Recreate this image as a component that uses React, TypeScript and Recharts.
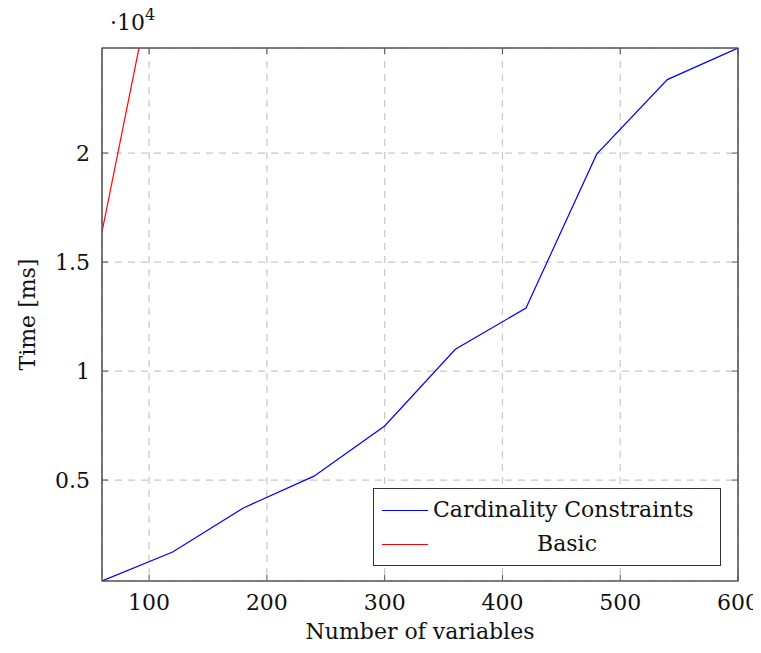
import React from "react";
import { LineChart, Line, XAxis, YAxis, CartesianGrid, ReferenceArea } from "recharts";

const xValues = [60, 120, 180, 240, 300, 360, 420, 480, 540, 600];
const cardinality = [370, 1700, 3720, 5180, 7480, 11000, 12890, 19950, 23370, 24820];
const basicX = [60, 120];
const basic = [16380, 32500];
const xTicks = [100, 200, 300, 400, 500, 600];
const yTicks = [5000, 10000, 15000, 20000];
const yMin = 370;
const yMax = 24820;

const ccData = xValues.map((x, i) => ({ x, y: cardinality[i] }));
const basicData = basicX.map((x, i) => ({ x, y: basic[i] }));

const FONT = "'DejaVu Serif', 'Liberation Serif', serif";
const FS = 22;
const AXIS = "#555";

const NoTick = () => <g />;

const LegendBox = () => (
  <div
    style={{
      position: "absolute",
      left: 365,
      top: 480,
      width: 348,
      height: 78,
      border: "1px solid #333",
      background: "#fff",
      fontFamily: FONT,
      fontSize: FS,
      color: "#111",
      boxSizing: "border-box",
    }}
  >
    <svg width={60} height={76} style={{ position: "absolute", left: 0, top: 0 }}>
      <line x1={8} x2={54} y1={21.5} y2={21.5} stroke="#0000ff" strokeWidth={1.2} />
      <line x1={8} x2={54} y1={55.5} y2={55.5} stroke="#ff0000" strokeWidth={1.2} />
    </svg>
    <div style={{ position: "absolute", left: 59, top: 8, whiteSpace: "nowrap" }}>Cardinality Constraints</div>
    <div style={{ position: "absolute", left: 59, right: 19, top: 42, textAlign: "center", whiteSpace: "nowrap" }}>Basic</div>
  </div>
);

export default function App() {
  return (
    <div style={{ position: "relative", width: 745, height: 636, fontFamily: FONT }}>
      <style>{`html, body { overflow: hidden; } .recharts-surface { overflow: visible; }`}</style>
      <LineChart width={753} height={636} margin={{ top: 39, right: 22, bottom: 3, left: 34 }}>
        <CartesianGrid stroke="#c8c8c8" strokeDasharray="7 6" strokeWidth={1.2} />
        <XAxis
          dataKey="x"
          type="number"
          domain={[60, 600]}
          ticks={xTicks}
          allowDataOverflow
          height={60}
          stroke={AXIS}
          tickSize={-6}
          tickLine={{ stroke: AXIS }}
          tick={{ fill: "#111", fontSize: FS, fontFamily: FONT }}
          tickMargin={19}
          label={{ value: "Number of variables", position: "insideBottom", offset: 2, fill: "#111", fontSize: FS, fontFamily: FONT }}
        />
        <XAxis
          xAxisId="top"
          orientation="top"
          dataKey="x"
          type="number"
          domain={[60, 600]}
          ticks={xTicks}
          allowDataOverflow
          height={1}
          stroke={AXIS}
          tickSize={-6}
          tickLine={{ stroke: AXIS }}
          tick={NoTick}
        />
        <YAxis
          dataKey="y"
          type="number"
          domain={[yMin, yMax]}
          ticks={yTicks}
          allowDataOverflow
          width={60}
          stroke={AXIS}
          tickSize={-6}
          tickLine={{ stroke: AXIS }}
          tick={{ fill: "#111", fontSize: FS, fontFamily: FONT }}
          tickMargin={18}
          tickFormatter={(v: number) => String(v / 10000)}
          label={{ value: "Time [ms]", angle: -90, position: "insideLeft", offset: -15, fill: "#111", fontSize: FS, fontFamily: FONT, style: { textAnchor: "middle" } }}
        />
        <YAxis
          yAxisId="right"
          orientation="right"
          dataKey="y"
          type="number"
          domain={[yMin, yMax]}
          ticks={yTicks}
          allowDataOverflow
          width={1}
          stroke={AXIS}
          tickSize={-6}
          tickLine={{ stroke: AXIS }}
          tick={NoTick}
        />
        <ReferenceArea x1={60} x2={600} y1={yMin} y2={yMax} fill="none" stroke={AXIS} strokeWidth={1.2} />
        <Line data={ccData} dataKey="y" stroke="#0000ff" strokeWidth={1.2} dot={false} isAnimationActive={false} name="Cardinality Constraints" />
        <Line data={basicData} dataKey="y" stroke="#ff0000" strokeWidth={1.2} dot={false} isAnimationActive={false} name="Basic" />
      </LineChart>
      <LegendBox />
      <div style={{ position: "absolute", left: 102, top: 2, fontSize: FS, color: "#111", whiteSpace: "nowrap" }}>
        ·10<sup style={{ fontSize: 16, verticalAlign: "top", position: "relative", top: -5 }}>4</sup>
      </div>
    </div>
  );
}
